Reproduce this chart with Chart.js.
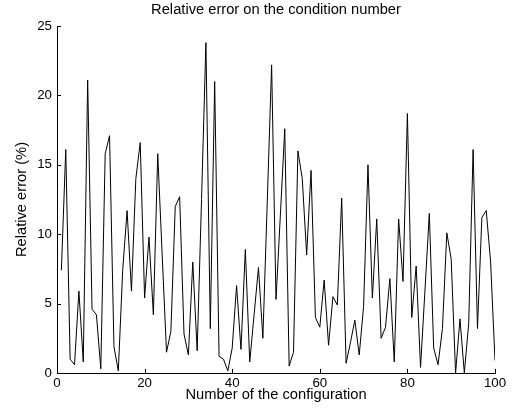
<!DOCTYPE html>
<html>
<head>
<meta charset="utf-8">
<script src="https://cdn.jsdelivr.net/npm/chart.js@4/dist/chart.umd.min.js"></script>
<style>
  html, body { margin: 0; padding: 0; background: #fff; }
  #wrap { width: 513px; height: 417px; }
</style>
</head>
<body>
<div id="wrap"><canvas id="chart"></canvas></div>
<script>
// Configuration numbers 1..100
const configs = Array.from({ length: 100 }, (_, i) => i + 1);

// Relative error (%), one per configuration
const relError = [
  7.4, 16.1, 1.0, 0.6, 5.9, 0.8, 21.1, 4.6, 4.2, 0.3,
  15.8, 17.1, 1.9, 0.15, 7.4, 11.7, 5.9, 14.0, 16.6, 5.4,
  9.8, 4.2, 15.8, 8.6, 1.5, 3.0, 12.0, 12.7, 2.8, 1.3,
  8.0, 1.6, 12.5, 23.8, 3.2, 21.0, 1.2, 1.0, 0.15, 1.8,
  6.3, 1.7, 8.9, 0.8, 4.2, 7.6, 2.5, 12.3, 22.2, 5.3,
  11.4, 17.6, 0.5, 1.5, 16.0, 14.0, 8.5, 14.6, 4.0, 3.3,
  6.7, 2.0, 5.5, 4.9, 12.6, 0.7, 2.2, 3.8, 1.3, 4.8,
  15.0, 5.4, 11.1, 2.5, 3.3, 6.8, 0.8, 11.1, 6.6, 18.7,
  4.0, 7.7, 0.4, 5.9, 11.5, 1.8, 0.6, 3.2, 10.1, 8.2,
  0.0, 3.9, 0.0, 3.6, 16.1, 3.2, 11.2, 11.7, 8.0, 0.9
];

const xTicks = [0, 20, 40, 60, 80, 100];
const yTicks = [0, 5, 10, 15, 20, 25];

const FONT = '"Liberation Sans", Arial, Helvetica, sans-serif';

// MATLAB-style ticks pointing into the plot
const inwardTicks = {
  id: 'inwardTicks',
  afterDatasetsDraw(chart) {
    const { ctx, chartArea, scales } = chart;
    const len = 4;
    ctx.save();
    ctx.strokeStyle = '#000';
    ctx.lineWidth = 1;
    ctx.beginPath();
    scales.x.ticks.forEach(t => {
      const px = Math.round(scales.x.getPixelForValue(t.value)) + 0.5;
      ctx.moveTo(px, chartArea.bottom);
      ctx.lineTo(px, chartArea.bottom - len);
    });
    scales.y.ticks.forEach(t => {
      const py = Math.round(scales.y.getPixelForValue(t.value)) + 0.5;
      ctx.moveTo(chartArea.left, py);
      ctx.lineTo(chartArea.left + len, py);
    });
    ctx.stroke();
    ctx.restore();
  }
};

new Chart(document.getElementById('chart'), {
  type: 'line',
  data: {
    datasets: [{
      data: configs.map((c, i) => ({ x: c, y: relError[i] })),
      borderColor: '#000',
      borderWidth: 1,
      pointRadius: 0,
      tension: 0,
      fill: false,
    }],
  },
  options: {
    responsive: true,
    maintainAspectRatio: false,
    animation: false,
    devicePixelRatio: 1,
    layout: { padding: { left: 0, right: 18, top: 0, bottom: 0 } },
    plugins: {
      legend: { display: false },
      tooltip: { enabled: false },
      title: {
        display: true,
        fullSize: false,
        text: 'Relative error on the condition number',
        color: '#000',
        font: { family: FONT, size: 14.7, weight: 'normal' },
        padding: { top: 1.2, bottom: 7.2 },
      },
    },
    scales: {
      x: {
        type: 'linear',
        min: 0,
        max: 100,
        afterBuildTicks: s => { s.ticks = xTicks.map(v => ({ value: v })); },
        afterFit: s => { s.height = 44; },
        grid: { display: false, drawTicks: false },
        border: { display: true, color: '#000', width: 1 },
        ticks: { color: '#000', padding: 2, font: { family: FONT, size: 13.3 } },
        title: {
          display: true,
          text: 'Number of the configuration',
          color: '#000',
          font: { family: FONT, size: 14.7 },
          padding: { top: 0, bottom: 13 },
        },
      },
      y: {
        type: 'linear',
        min: 0,
        max: 25,
        afterBuildTicks: s => { s.ticks = yTicks.map(v => ({ value: v })); },
        afterFit: s => { s.width = 57; },
        grid: { display: false, drawTicks: false },
        border: { display: true, color: '#000', width: 1 },
        ticks: { color: '#000', padding: 5, font: { family: FONT, size: 13.3 } },
        title: {
          display: true,
          text: 'Relative error (%)',
          color: '#000',
          font: { family: FONT, size: 14.7 },
          padding: { top: 13, bottom: 0 },
        },
      },
    },
  },
  plugins: [inwardTicks],
});
</script>
</body>
</html>
